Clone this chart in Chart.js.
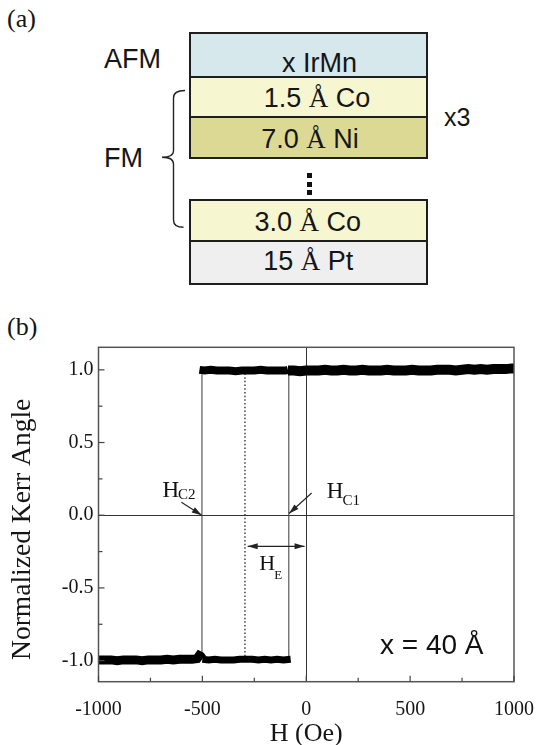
<!DOCTYPE html>
<html>
<head>
<meta charset="utf-8">
<script src="https://cdn.jsdelivr.net/npm/chart.js@4/dist/chart.umd.min.js"></script>
<style>
  html, body { margin:0; padding:0; background:#fff; }
  body { width:536px; height:745px; position:relative; overflow:hidden; }
  .t { position:absolute; white-space:nowrap; color:#151515; }
  .sans { font-family:"Liberation Sans", Arial, sans-serif; font-size:27px; line-height:27px; }
  .serif { font-family:"Liberation Serif", "Times New Roman", serif; }
  .box { position:absolute; left:189px; width:238.7px; box-sizing:border-box; border:2px solid #1e1e1e; }
  .bt { position:absolute; width:240px; text-align:center; }
  .dot { position:absolute; left:307px; width:5px; height:5px; background:#111; }
  #c { position:absolute; left:0; top:300px; }
</style>
</head>
<body>
<!-- panel (a): layer stack -->
<div class="t serif" style="left:7px; top:5.7px; font-size:26px; line-height:26px;">(a)</div>
<div class="t sans" style="left:104px; top:45.5px;">AFM</div>
<div class="t sans" style="left:104px; top:145.2px;">FM</div>
<div class="t sans" style="left:444px; top:104.8px; font-size:25px; line-height:25px;">x3</div>

<div class="box" style="top:31.7px; height:46.6px; background:#d6e8ec;"></div>
<div class="box" style="top:76.3px; height:41.4px; background:#f6f6d0;"></div>
<div class="box" style="top:115.7px; height:43.6px; background:#dcd995;"></div>
<div class="box" style="top:199px; height:42.7px; background:#f6f6d0;"></div>
<div class="box" style="top:239.7px; height:45.6px; background:#efefef;"></div>

<div class="t sans bt" style="left:199.5px; top:49.5px;">x IrMn</div>
<div class="t sans bt" style="left:197px; top:84.5px;">1.5 <span class="serif">Å</span> Co</div>
<div class="t sans bt" style="left:190px; top:125.5px;">7.0 <span class="serif">Å</span> Ni</div>
<div class="t sans bt" style="left:187.8px; top:208.9px;">3.0 <span class="serif">Å</span> Co</div>
<div class="t sans bt" style="left:188.3px; top:247.9px;">15 <span class="serif">Å</span> Pt</div>

<div class="dot" style="top:172.5px;"></div>
<div class="dot" style="top:181.5px;"></div>
<div class="dot" style="top:190px;"></div>

<svg style="position:absolute; left:0; top:0;" width="536" height="300">
  <path d="M185,90.5 Q173.5,90.5 173.5,98 L173.5,151 Q173.5,157.3 162,157.3 Q173.5,157.3 173.5,164 L173.5,220 Q173.5,227.3 183.5,227.3"
        stroke="#222" stroke-width="1.4" fill="none"/>
</svg>

<!-- panel (b) -->
<div class="t serif" style="left:7px; top:313.8px; font-size:26px; line-height:26px;">(b)</div>
<canvas id="c" width="536" height="445"></canvas>

<script>
// ---------------- data ----------------
const xTickValues = [-1000, -750, -500, -250, 0, 250, 500, 750, 1000];
const xTickLabels = [-1000, -500, 0, 500, 1000];
const yTickValues = [-1, -0.75, -0.5, -0.25, 0, 0.25, 0.5, 0.75, 1];
const yTickLabels = [-1, -0.5, 0, 0.5, 1];

// upper branch (saturated +1), left part after the switch at Hc2
const upperAH = [-514, -490, -460, -430, -400, -370, -340, -310, -280, -250, -220, -190, -160, -130, -100, -88];
const upperAK = [1.0, 0.995, 1.0, 0.995, 0.995, 0.995, 0.99, 0.995, 0.995, 0.995, 1.0, 0.995, 0.995, 0.995, 0.995, 1.0];
// upper branch, right part
const upperBH = [-88, -60, -30, 0, 30, 60, 90, 120, 150, 180, 210, 240, 270, 300, 330, 360, 390, 420, 450,
                 480, 510, 540, 570, 600, 630, 660, 690, 720, 750, 780, 810, 840, 870, 900, 930, 960, 990, 1000];
const upperBK = [0.995, 0.995, 0.99, 0.995, 0.995, 0.995, 1.0, 0.995, 0.995, 1.0, 0.995, 0.995, 1.0, 0.995, 0.995, 0.995, 1.0, 0.995, 0.995,
                 0.995, 1.0, 0.995, 0.995, 0.995, 1.0, 1.0, 1.0, 0.995, 1.0, 1.005, 1.0, 1.005, 1.0, 1.005, 1.005, 1.005, 1.01, 1.01];
// lower branch (saturated -1), left part
const lowerAH = [-1000, -970, -940, -910, -880, -850, -820, -790, -760, -730, -700, -670, -640, -610, -580, -550, -525, -515, -508, -500];
const lowerAK = [-0.995, -0.995, -0.995, -1.0, -0.995, -0.995, -0.995, -1.0, -0.995, -0.995, -0.995, -0.99, -0.995, -0.99, -0.99, -0.99, -0.985, -0.965, -0.97, -0.985];
// lower branch, right part up to the switch at Hc1
const lowerBH = [-500, -470, -440, -410, -380, -350, -320, -290, -260, -230, -200, -170, -140, -110, -75];
const lowerBK = [-0.99, -0.995, -0.99, -0.995, -0.995, -0.995, -0.99, -0.99, -0.99, -0.995, -0.99, -0.995, -0.99, -0.995, -0.99];
// switching fields and exchange-bias centre
const hc2H = [-502, -502];
const hc2K = [0.97, -0.96];
const hc1H = [-84, -84];
const hc1K = [0.965, -0.97];
const heH  = [-295, -295];
const heK  = [0.975, -0.975];

const zip = (xs, ys) => xs.map((v, i) => ({ x: v, y: ys[i] }));

const serif = '"Liberation Serif", "Times New Roman", serif';
const sans = '"Liberation Sans", Arial, sans-serif';

const frameAndNotes = {
  id: 'frameAndNotes',
  afterDatasetsDraw(chart) {
    const { ctx, chartArea: a, scales: { x, y } } = chart;
    const X = v => x.getPixelForValue(v), Y = v => y.getPixelForValue(v);
    ctx.save();
    // frame
    ctx.strokeStyle = '#555'; ctx.lineWidth = 1.5;
    ctx.strokeRect(a.left, a.top, a.right - a.left, a.bottom - a.top);
    // inward ticks
    ctx.strokeStyle = '#444'; ctx.lineWidth = 1.2;
    x.ticks.forEach(t => {
      const p = X(t.value), len = xTickLabels.includes(t.value) ? 6 : 4;
      ctx.beginPath(); ctx.moveTo(p, a.bottom); ctx.lineTo(p, a.bottom - len); ctx.stroke();
    });
    y.ticks.forEach(t => {
      const p = Y(t.value), len = yTickLabels.includes(t.value) ? 6 : 4;
      ctx.beginPath(); ctx.moveTo(a.left, p); ctx.lineTo(a.left + len, p); ctx.stroke();
    });
    // arrows
    const head = (x1, y1, x2, y2) => {
      const ang = Math.atan2(y2 - y1, x2 - x1), L = 10, W = 3;
      ctx.beginPath();
      ctx.moveTo(x2, y2);
      ctx.lineTo(x2 - L * Math.cos(ang) + W * Math.sin(ang), y2 - L * Math.sin(ang) - W * Math.cos(ang));
      ctx.lineTo(x2 - L * Math.cos(ang) - W * Math.sin(ang), y2 - L * Math.sin(ang) + W * Math.cos(ang));
      ctx.closePath(); ctx.fill();
    };
    const arrow = (x1, y1, x2, y2, both) => {
      ctx.beginPath(); ctx.moveTo(x1, y1); ctx.lineTo(x2, y2); ctx.stroke();
      head(x1, y1, x2, y2);
      if (both) head(x2, y2, x1, y1);
    };
    ctx.strokeStyle = '#222'; ctx.fillStyle = '#222'; ctx.lineWidth = 1.1;
    arrow(X(-601), Y(0.089), X(-503), Y(0.0));
    arrow(X(26), Y(0.153), X(-83), Y(0.012));
    ctx.lineWidth = 1.4;
    arrow(X(-282), Y(-0.214), X(-8), Y(-0.214), true);
    // labels
    ctx.fillStyle = '#111'; ctx.textBaseline = 'alphabetic'; ctx.textAlign = 'left';
    const lab = (h, k, main, sub, mainSize, subSize, drop) => {
      const px = X(h), py = Y(k);
      ctx.font = mainSize + 'px ' + serif;
      ctx.fillText(main, px, py);
      const w = ctx.measureText(main).width;
      ctx.font = subSize + 'px ' + serif;
      ctx.fillText(sub, px + w - 1, py + drop);
    };
    lab(-692, 0.124, 'H', 'C2', 23, 15, 2);
    lab(99, 0.118, 'H', 'C1', 23, 15, 7);
    lab(-226, -0.379, 'H', 'E', 22, 13, 8.5);
    ctx.font = '28px ' + sans;
    ctx.fillText('x = 40 Å', X(355), Y(-0.952));
    // y-axis title (placed a little below the axis centre, as in the original)
    const yt = chart.options.scales.y.title;
    ctx.save();
    ctx.translate(23, Y(-0.097));
    ctx.rotate(-Math.PI / 2);
    ctx.font = '27.5px ' + serif;
    ctx.fillStyle = '#151515';
    ctx.textAlign = 'center'; ctx.textBaseline = 'middle';
    ctx.fillText(yt.text, 0, 0);
    ctx.restore();
    ctx.restore();
  }
};

const black = '#000';
new Chart(document.getElementById('c'), {
  type: 'scatter',
  data: {
    datasets: [
      { data: zip(upperAH, upperAK), showLine: true, borderColor: black, borderWidth: 8, borderJoinStyle: 'miter' },
      { data: zip(upperBH, upperBK), showLine: true, borderColor: black, borderWidth: 10, borderJoinStyle: 'miter' },
      { data: zip(lowerAH, lowerAK), showLine: true, borderColor: black, borderWidth: 9, borderJoinStyle: 'miter' },
      { data: zip(lowerBH, lowerBK), showLine: true, borderColor: black, borderWidth: 7, borderJoinStyle: 'miter' },
      { data: zip(hc2H, hc2K), showLine: true, borderColor: '#4a4a4a', borderWidth: 1.1 },
      { data: zip(hc1H, hc1K), showLine: true, borderColor: '#4a4a4a', borderWidth: 1.1 },
      { data: zip(heH, heK), showLine: true, borderColor: '#333', borderWidth: 1.4, borderDash: [1.5, 2.2] }
    ]
  },
  options: {
    responsive: false,
    animation: false,
    devicePixelRatio: 1,
    layout: { padding: { top: 47.3, right: 22, left: 0, bottom: 0 } },
    plugins: { legend: { display: false }, tooltip: { enabled: false } },
    elements: { point: { radius: 0, hoverRadius: 0 }, line: { tension: 0 } },
    scales: {
      x: {
        type: 'linear', min: -1000, max: 1000,
        afterBuildTicks: s => { s.ticks = xTickValues.map(v => ({ value: v })); },
        afterFit: s => { s.height = 63.3; s.paddingLeft = 0; s.paddingRight = 0; },
        ticks: {
          autoSkip: false, maxRotation: 0, padding: 16, color: '#151515',
          font: { family: serif, size: 20 },
          callback: v => xTickLabels.includes(v) ? String(v) : ''
        },
        grid: { drawTicks: false, lineWidth: 1, color: c => (c.tick && c.tick.value === 0) ? '#333' : 'rgba(0,0,0,0)' },
        border: { display: false },
        title: { display: true, text: 'H (Oe)', color: '#151515', font: { family: serif, size: 26, lineHeight: 1 }, padding: { top: 0, bottom: -2 } }
      },
      y: {
        type: 'linear', min: -1.145, max: 1.155,
        afterBuildTicks: s => { s.ticks = yTickValues.map(v => ({ value: v })); },
        afterFit: s => { s.width = 98.5; s.paddingTop = 0; s.paddingBottom = 0; },
        ticks: {
          autoSkip: false, padding: 5, color: '#151515',
          font: { family: serif, size: 20 },
          callback: v => yTickLabels.includes(v) ? v.toFixed(1) : ''
        },
        grid: { drawTicks: false, lineWidth: 1, color: c => (c.tick && c.tick.value === 0) ? '#333' : 'rgba(0,0,0,0)' },
        border: { display: false },
        title: { display: false, text: 'Normalized Kerr Angle' }
      }
    }
  },
  plugins: [frameAndNotes]
});
</script>
</body>
</html>
